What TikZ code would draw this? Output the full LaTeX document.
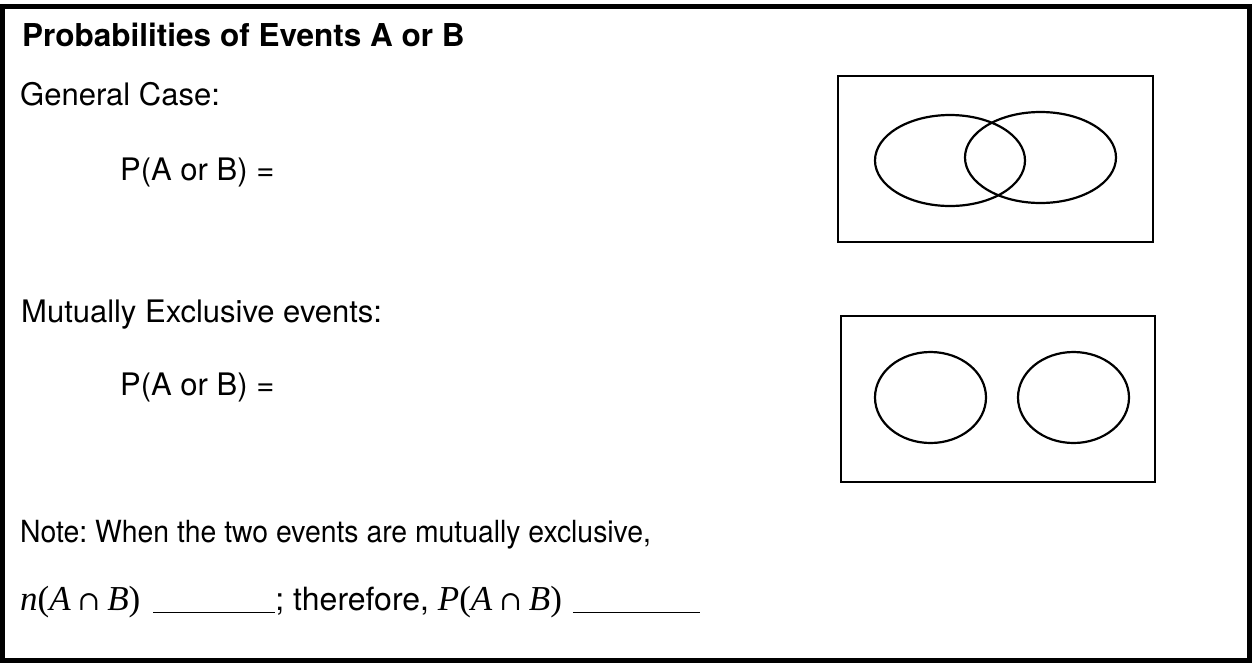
\documentclass[tikz,border=0pt]{standalone}
\usepackage{fontspec}
\setmainfont{TeX Gyre Heros}
\newfontfamily\mserif{Liberation Serif}
\newfontfamily\capfont{DejaVu Serif}
\newcommand{\myvar}[1]{{\mserif\fontsize{35}{38}\selectfont\itshape #1}}
\newcommand{\mypar}[1]{{\mserif\fontsize{35}{38}\selectfont #1}}
\newcommand{\capsym}{\hspace{7pt}{\capfont\fontsize{27}{30}\selectfont ∩}\hspace{7pt}}
\newcommand{\myblank}[1]{\rule[-3pt]{#1}{1.4pt}}
\begin{document}
\frenchspacing
\begin{tikzpicture}[x=1pt,y=-1pt,
  txt/.style={anchor=base west, inner sep=0pt, font=\fontsize{31}{36}\selectfont},
  venn/.style={line width=2.2pt},
  frame/.style={line width=5pt}]
\useasboundingbox (0,0) rectangle (1252,662);
\draw[frame] (2,6.5) rectangle (1249.5,660);
\node[txt, font=\fontsize{31.5}{36}\selectfont\bfseries] (title) at (22,46) {Probabilities of Events A or B};
\node[txt] (gen) at (20,105) {General Case:};
\node[txt] (p1) at (120,180) {P(A or B) =};
\node[txt] (mut) at (21,322) {Mutually Exclusive events:};
\node[txt] (p2) at (120,395) {P(A or B) =};
\node[txt, font=\fontsize{30.5}{36}\selectfont\addfontfeatures{FakeStretch=0.93}] (note) at (20,542) {Note: When the two events are mutually exclusive,};
\node[txt, font=\fontsize{32}{36}\selectfont] (last) at (20,610) {\myvar{n}\mypar{(}\myvar{A}\capsym\myvar{B}\mypar{)}\hspace{13pt}\myblank{122pt}; therefore, \myvar{P}\mypar{(}\myvar{A}\capsym\myvar{B}\mypar{)}\hspace{11pt}\myblank{127pt}};
% Venn 1
\node[draw, venn, minimum width=315pt, minimum height=166pt, inner sep=0pt] (box1) at (995.5,159) {};
\draw[venn] (950,160.5) ellipse [x radius=75, y radius=45.5];
\draw[venn] (1040.5,157.5) ellipse [x radius=75.5, y radius=45.5];
% Venn 2
\node[draw, venn, minimum width=314pt, minimum height=166pt, inner sep=0pt] (box2) at (998,399) {};
\draw[venn] (930.5,397.5) ellipse [x radius=55.5, y radius=45.5];
\draw[venn] (1073.5,397.5) ellipse [x radius=55.5, y radius=45.5];
\end{tikzpicture}
\end{document}
